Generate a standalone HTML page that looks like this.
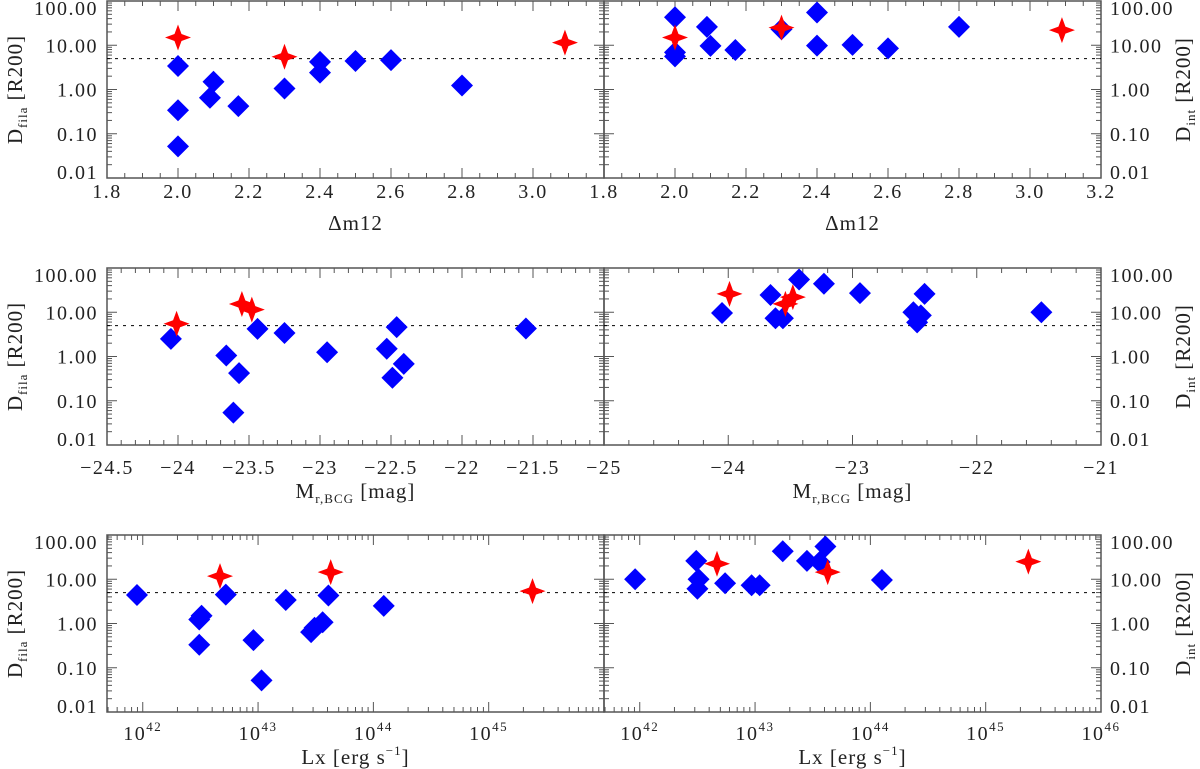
<!DOCTYPE html>
<html><head><meta charset="utf-8"><style>
html,body{margin:0;padding:0;background:#fff;}
svg{display:block;font-family:"Liberation Serif","DejaVu Serif",serif;}
</style></head><body>
<svg id="fig" width="1200" height="769" viewBox="0 0 1200 769" xmlns="http://www.w3.org/2000/svg"></svg>
<script>
// ---- data ----
const threshold = 5;
const yTickLabels = ["0.01","0.10","1.00","10.00","100.00"];
// Row 1: delta m12
const dm12BlueX = [2.0,2.0,2.0,2.09,2.1,2.17,2.3,2.4,2.4,2.5,2.6,2.8];
const dm12BlueFila = [3.4,0.34,0.052,0.65,1.5,0.42,1.05,4.2,2.4,4.4,4.6,1.23];
const dm12RedX = [2.0,2.3,3.09];
const dm12RedFila = [15,5.5,11.5];
const dm12BlueIntX = [2.0,2.0,2.0,2.09,2.1,2.17,2.3,2.4,2.4,2.5,2.6,2.8];
const dm12BlueInt = [43,6.9,5.6,26,9.7,7.8,23,55,9.8,10.2,8.5,26];
const dm12RedInt = [15,25,22];
const dm12TicksLeft = ["1.8","2.0","2.2","2.4","2.6","2.8","3.0"];
const dm12TicksRight = ["1.8","2.0","2.2","2.4","2.6","2.8","3.0","3.2"];
// Row 2: Mr,BCG
const magBlueX = [-24.05,-23.66,-23.57,-23.61,-23.44,-23.25,-22.95,-22.53,-22.46,-22.49,-22.41,-21.55];
const magBlueFila = [2.5,1.05,0.42,0.054,4.2,3.4,1.25,1.5,4.6,0.33,0.68,4.3];
const magRedX = [-24.01,-23.55,-23.48];
const magRedFila = [5.5,15.4,11.5];
const magBlueIntX = [-24.05,-23.66,-23.62,-23.56,-23.43,-23.23,-22.94,-22.51,-22.48,-22.45,-22.42,-21.48];
const magBlueInt = [9.6,24.5,7.3,7.3,55,44,27,10,5.9,8.5,26,10];
const magRedIntX = [-23.99,-23.54,-23.48];
const magRedInt = [26,15.5,22];
const magTicksLeft = ["\u221224.5","\u221224","\u221223.5","\u221223","\u221222.5","\u221222","\u221221.5"];
const magTicksRight = ["\u221225","\u221224","\u221223","\u221222","\u221221"];
// Row 3: log Lx
const lxBlueLog = [41.95,42.49,42.51,42.49,42.72,42.96,43.03,43.24,43.46,43.49,43.56,43.61,44.09];
const lxBlueFila = [4.4,1.23,1.5,0.33,4.5,0.42,0.052,3.4,0.64,0.8,1.07,4.3,2.5];
const lxRedLog = [42.67,43.63,45.38];
const lxRedFila = [11.8,14.5,5.4];
const lxBlueIntLog = [41.96,42.49,42.51,42.5,42.74,42.97,43.04,43.24,43.45,43.56,43.61,44.1];
const lxBlueInt = [10,26,10,6.1,8.1,7.3,7.3,43,26,24.5,55,9.6];
const lxRedIntLog = [42.67,43.63,45.37];
const lxRedInt = [22.4,14.5,25];
const lxTickExps = ["42","43","44","45","46"];

// ---- layout ----
const svg = document.getElementById('fig');
const NS = 'http://www.w3.org/2000/svg';
const AX = '#555';
const colL = [107,604], colR = [604,1101];
const rowTops = [1,268,535];
const H = 177;
function mk(tag, attrs, parent){
  const e = document.createElementNS(NS, tag);
  for (const k in attrs) e.setAttribute(k, attrs[k]);
  (parent||svg).appendChild(e);
  return e;
}
function yScale(top){ return v => top + (2 - Math.log10(v)) * H / 4; }

function diamond(g, x, y, name){
  const p = mk('path', {d:`M${x},${y-11}L${x+11},${y}L${x},${y+11}L${x-11},${y}Z`, fill:'#0000ff'}, g);
  
  
}
function star(g, x, y, name){
  const r = 13, w = 3.5;
  const p = mk('path', {d:`M${x},${y-r}L${x+w},${y-w}L${x+r},${y}L${x+w},${y+w}L${x},${y+r}L${x-w},${y+w}L${x-r},${y}L${x-w},${y-w}Z`, fill:'#ff0000'}, g);
  
  
}

function panel(opts){
  const [x0, x1] = opts.col, top = opts.top, bot = top + H;
  const g = mk('g', {});
  
  
  const xs = v => x0 + (v - opts.xmin) / (opts.xmax - opts.xmin) * (x1 - x0);
  const ys = yScale(top);
  const fr = mk('rect', {x:x0, y:top, width:x1-x0, height:H, fill:'none', stroke:AX, 'stroke-width':1.5}, g);
  
  
  for (let d = -2; d <= 2; d++){
    for (let m = 1; m <= 9; m++){
      if (d === 2 && m > 1) break;
      const y = ys(m * Math.pow(10, d));
      const len = m === 1 ? 10 : 5;
      mk('line', {x1:x0, x2:x0+len, y1:y, y2:y, stroke:AX, 'stroke-width':1}, g);
      mk('line', {x1:x1, x2:x1-len, y1:y, y2:y, stroke:AX, 'stroke-width':1}, g);
    }
  }
  opts.xticks.forEach(t => {
    const x = xs(t.v);
    if (x < x0 - 0.5 || x > x1 + 0.5) return;
    const len = t.major ? 10 : 5;
    mk('line', {x1:x, x2:x, y1:bot, y2:bot-len, stroke:AX, 'stroke-width':1}, g);
    mk('line', {x1:x, x2:x, y1:top, y2:top+len, stroke:AX, 'stroke-width':1}, g);
  });
  const ty = ys(threshold);
  const tl = mk('line', {x1:x0, x2:x1, y1:ty, y2:ty, stroke:'#000', 'stroke-width':1, 'stroke-dasharray':'3,5'}, g);
  
  
  yTickLabels.forEach((lab, i) => {
    let y = ys(Math.pow(10, i - 2));
    y = Math.max(top + 7, Math.min(bot - 6, y));
    const t = mk('text', opts.side === 'left'
      ? {x:98, y:y+7, 'text-anchor':'end', 'font-size':20, 'letter-spacing':1.5, fill:'#222'}
      : {x:1110, y:y+7, 'text-anchor':'start', 'font-size':20, 'letter-spacing':1.5, fill:'#222'}, g);
    t.textContent = lab;
    
    
  });
  opts.xlabels.forEach(l => {
    const t = mk('text', {x:xs(l.v), y:bot+opts.tickDy, 'text-anchor':'middle', 'font-size':20, 'letter-spacing':1.5, fill:'#222'}, g);
    if (l.exp){
      const a = mk('tspan', {}, t); a.textContent = '10';
      const b = mk('tspan', {'font-size':13, dy:-9}, t); b.textContent = l.exp;
    } else t.textContent = l.text;
    
    
  });
  const cx = (x0 + x1) / 2;
  const xt = mk('text', {x:cx, y:bot+opts.titleDy, 'text-anchor':'middle', 'font-size':21, 'letter-spacing':1, fill:'#222'}, g);
  
  
  opts.xtitle(xt);
  const cy = top + H / 2;
  const tx = opts.side === 'left' ? 22 : 1190;
  const yt = mk('text', {x:tx, y:cy, 'text-anchor':'middle', 'font-size':21, 'letter-spacing':1, fill:'#222', transform:`rotate(-90 ${tx} ${cy})`}, g);
  
  
  const a = mk('tspan', {}, yt); a.textContent = 'D';
  const b = mk('tspan', {'font-size':13, dy:5}, yt); b.textContent = opts.side === 'left' ? 'fila' : 'int';
  const c = mk('tspan', {dy:-5}, yt); c.textContent = ' [R200]';
  opts.blueX.forEach((v, i) => diamond(g, xs(v), ys(opts.blueY[i]), 'blue-diamond-point'));
  opts.redX.forEach((v, i) => star(g, xs(v), ys(opts.redY[i]), 'red-star-point'));
}

function linTicks(min, max, majorStep, minorStep){
  const ticks = [];
  const n = Math.round((max - min) / minorStep);
  for (let i = 0; i <= n; i++){
    const v = min + i * minorStep;
    const r = (v - min) / majorStep;
    ticks.push({v:v, major: Math.abs(r - Math.round(r)) < 1e-6});
  }
  return ticks;
}
function logTicks(min, max){
  const t = [];
  for (let d = 41; d <= 46; d++){
    for (let m = 1; m <= 9; m++){
      const v = d + Math.log10(m);
      if (v >= min - 1e-6 && v <= max + 1e-6) t.push({v:v, major: m === 1});
    }
  }
  return t;
}
function dmTitle(t){ t.textContent = '\u0394m12'; }
function magTitle(t){
  const a = mk('tspan', {}, t); a.textContent = 'M';
  const b = mk('tspan', {'font-size':13, dy:5}, t); b.textContent = 'r,BCG';
  const c = mk('tspan', {dy:-5}, t); c.textContent = ' [mag]';
}
function lxTitle(t){
  const a = mk('tspan', {}, t); a.textContent = 'Lx [erg s';
  const b = mk('tspan', {'font-size':13, dy:-9}, t); b.textContent = '\u22121';
  const c = mk('tspan', {dy:9}, t); c.textContent = ']';
}

// Row 1
panel({name:'panel-dm12-dfila', col:colL, top:rowTops[0], side:'left', xmin:1.8, xmax:3.2,
  xticks: linTicks(1.8, 3.2, 0.2, 0.05),
  xlabels: dm12TicksLeft.map(s => ({v:parseFloat(s), text:s})),
  tickDy: 20, titleDy: 52, xtitle: dmTitle,
  blueX: dm12BlueX, blueY: dm12BlueFila, redX: dm12RedX, redY: dm12RedFila});
panel({name:'panel-dm12-dint', col:colR, top:rowTops[0], side:'right', xmin:1.8, xmax:3.2,
  xticks: linTicks(1.8, 3.2, 0.2, 0.05),
  xlabels: dm12TicksRight.map(s => ({v:parseFloat(s), text:s})),
  tickDy: 20, titleDy: 52, xtitle: dmTitle,
  blueX: dm12BlueIntX, blueY: dm12BlueInt, redX: dm12RedX, redY: dm12RedInt});
// Row 2
panel({name:'panel-mag-dfila', col:colL, top:rowTops[1], side:'left', xmin:-24.5, xmax:-21.0,
  xticks: linTicks(-24.5, -21.0, 0.5, 0.1),
  xlabels: magTicksLeft.map(s => ({v:parseFloat(s.replace('\u2212','-')), text:s})),
  tickDy: 29, titleDy: 53, xtitle: magTitle,
  blueX: magBlueX, blueY: magBlueFila, redX: magRedX, redY: magRedFila});
panel({name:'panel-mag-dint', col:colR, top:rowTops[1], side:'right', xmin:-25, xmax:-21,
  xticks: linTicks(-25, -21, 1, 0.2),
  xlabels: magTicksRight.map(s => ({v:parseFloat(s.replace('\u2212','-')), text:s})),
  tickDy: 29, titleDy: 53, xtitle: magTitle,
  blueX: magBlueIntX, blueY: magBlueInt, redX: magRedIntX, redY: magRedInt});
// Row 3
panel({name:'panel-lx-dfila', col:colL, top:rowTops[2], side:'left', xmin:41.69, xmax:46.0,
  xticks: logTicks(41.69, 46.0),
  xlabels: lxTickExps.slice(0,4).map(e => ({v:parseFloat(e), exp:e})),
  tickDy: 28, titleDy: 52, xtitle: lxTitle,
  blueX: lxBlueLog, blueY: lxBlueFila, redX: lxRedLog, redY: lxRedFila});
panel({name:'panel-lx-dint', col:colR, top:rowTops[2], side:'right', xmin:41.69, xmax:46.0,
  xticks: logTicks(41.69, 46.0),
  xlabels: lxTickExps.map(e => ({v:parseFloat(e), exp:e})),
  tickDy: 28, titleDy: 52, xtitle: lxTitle,
  blueX: lxBlueIntLog, blueY: lxBlueInt, redX: lxRedIntLog, redY: lxRedInt});
</script>
</body></html>
